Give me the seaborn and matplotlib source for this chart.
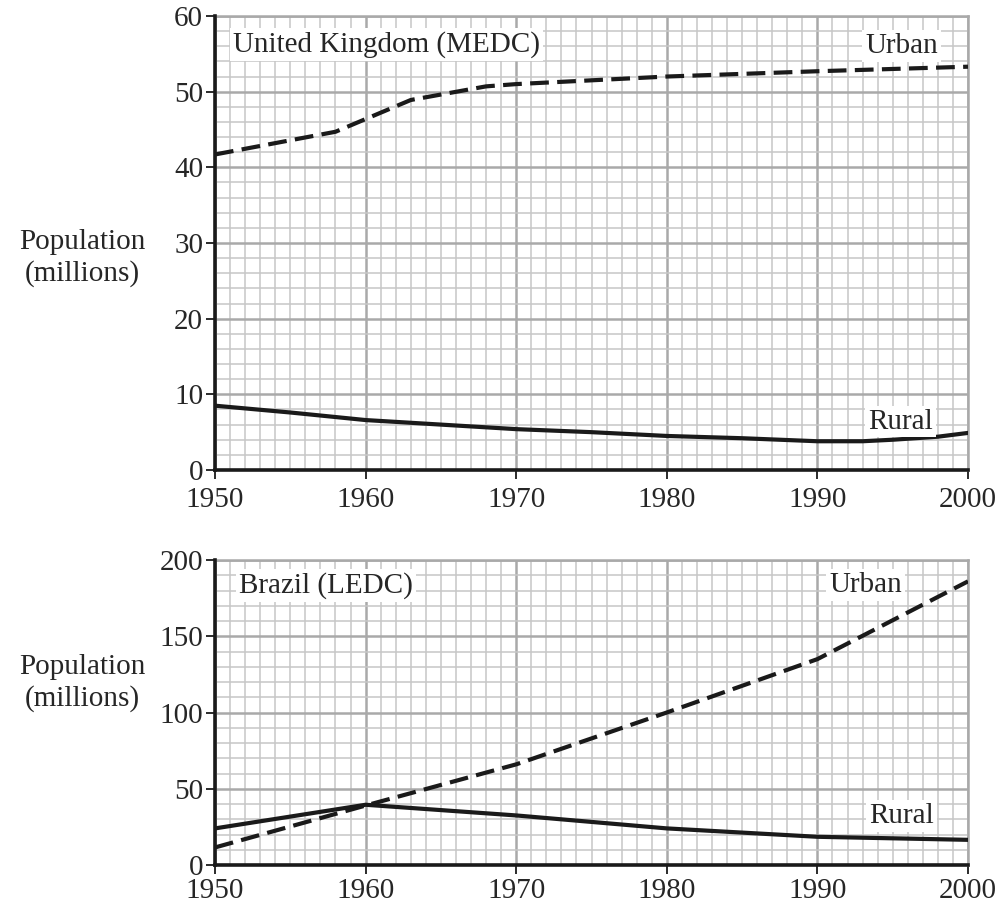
import numpy as np
import pandas as pd
import matplotlib
matplotlib.use("Agg")
import matplotlib.pyplot as plt
import seaborn as sns
from matplotlib.ticker import MultipleLocator

# =========================
# DATA
# =========================

uk_urban_years = [1950, 1958, 1963, 1968, 1970, 1980, 1990, 2000]
uk_urban_pop = [41.7, 44.7, 48.9, 50.7, 51.0, 52.0, 52.7, 53.3]

uk_rural_years = [1950, 1955, 1960, 1965, 1970, 1975, 1980, 1985, 1990, 1993, 1995, 1998, 2000]
uk_rural_pop = [8.5, 7.6, 6.6, 6.0, 5.4, 5.0, 4.5, 4.2, 3.8, 3.8, 4.0, 4.4, 4.9]

br_years = [1950, 1960, 1970, 1980, 1990, 2000]
br_urban_pop = [11.5, 39.0, 66.0, 100.0, 135.0, 186.0]
br_rural_pop = [24.0, 39.5, 32.5, 24.0, 18.5, 16.5]

year_ticks = [1950, 1960, 1970, 1980, 1990, 2000]

# =========================
# STYLE
# =========================

sns.set_style("ticks")
plt.rcParams['font.family'] = ['Liberation Serif', 'DejaVu Serif']

FS = 21
DASH = (0, (4.5, 2.0))
box = dict(facecolor='white', edgecolor='none', pad=2)

fig = plt.figure(figsize=(10.02, 9.05), dpi=100)
ax_uk = fig.add_axes([215 / 1002, 1 - 470 / 905, (968 - 215) / 1002, (470 - 16) / 905])
ax_br = fig.add_axes([215 / 1002, 1 - 865 / 905, (968 - 215) / 1002, (865 - 560) / 905])


def graph_paper(ax, ymax, ymajor, yminor, xpad):
    ax.set_xlim(1950, 2000)
    ax.set_ylim(0, ymax)
    ax.xaxis.set_major_locator(MultipleLocator(10))
    ax.xaxis.set_minor_locator(MultipleLocator(1))
    ax.yaxis.set_major_locator(MultipleLocator(ymajor))
    ax.yaxis.set_minor_locator(MultipleLocator(yminor))
    ax.grid(which='minor', color='#c6c6c6', linewidth=1.1, zorder=0)
    ax.grid(which='major', color='#a9a9a9', linewidth=1.8, zorder=0)
    ax.set_axisbelow(True)
    for side in ['left', 'bottom']:
        ax.spines[side].set_color('#1a1a1a')
        ax.spines[side].set_linewidth(2.6)
        ax.spines[side].set_zorder(5)
    for side in ['top', 'right']:
        ax.spines[side].set_color('#a9a9a9')
        ax.spines[side].set_linewidth(1.8)
    ax.tick_params(which='major', direction='out', length=6.5, width=1.3,
                   color='#1a1a1a', labelsize=FS)
    ax.tick_params(axis='y', which='major', pad=2)
    ax.tick_params(axis='x', which='major', pad=xpad)
    ax.tick_params(which='minor', length=0)
    ax.set_xticks(year_ticks)
    ax.set_xlabel('')
    ax.set_ylabel('')


# =========================
# UNITED KINGDOM
# =========================

sns.lineplot(x=uk_urban_years, y=uk_urban_pop, ax=ax_uk, color='#1a1a1a',
             linewidth=3.0, linestyle=DASH, zorder=3)
sns.lineplot(x=uk_rural_years, y=uk_rural_pop, ax=ax_uk, color='#1a1a1a',
             linewidth=3.0, zorder=3)
graph_paper(ax_uk, 60, 10, 2, 6)

ax_uk.text(1951.2, 56.2, 'United Kingdom (MEDC)', fontsize=FS, va='center',
           ha='left', bbox=box, zorder=4)
ax_uk.text(1995.6, 56.0, 'Urban', fontsize=FS, va='center', ha='center',
           bbox=box, zorder=4)
ax_uk.text(1995.5, 6.4, 'Rural', fontsize=FS, va='center', ha='center',
           bbox=box, zorder=4)

# =========================
# BRAZIL
# =========================

sns.lineplot(x=br_years, y=br_urban_pop, ax=ax_br, color='#1a1a1a',
             linewidth=3.0, linestyle=DASH, zorder=3)
sns.lineplot(x=br_years, y=br_rural_pop, ax=ax_br, color='#1a1a1a',
             linewidth=3.0, zorder=3)
graph_paper(ax_br, 200, 50, 10, 2.5)

ax_br.text(1951.6, 183.5, 'Brazil (LEDC)', fontsize=FS, va='center',
           ha='left', bbox=box, zorder=4)
ax_br.text(1993.2, 183.5, 'Urban', fontsize=FS, va='center', ha='center',
           bbox=box, zorder=4)
ax_br.text(1995.6, 32.4, 'Rural', fontsize=FS, va='center', ha='center',
           bbox=box, zorder=4)

# y labels
fig.text(82 / 1002, 1 - 258 / 905, 'Population\n(millions)', fontsize=FS,
         ha='center', va='center', linespacing=1.2)
fig.text(82 / 1002, 1 - 683 / 905, 'Population\n(millions)', fontsize=FS,
         ha='center', va='center', linespacing=1.2)

fig.savefig('out.png', dpi=100)
